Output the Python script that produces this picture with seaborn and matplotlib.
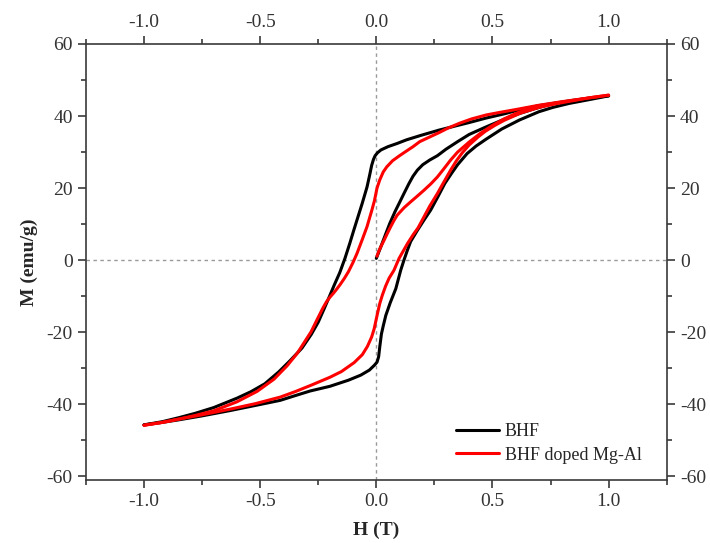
import numpy as np
import pandas as pd
import seaborn as sns
import matplotlib
matplotlib.use("Agg")
import matplotlib.pyplot as plt
from matplotlib.ticker import MultipleLocator, FuncFormatter
from matplotlib.lines import Line2D

# ---- data ----
samples = ["BHF", "BHF doped Mg-Al"]

bhf_up_H = [1.0, 0.92, 0.85, 0.78, 0.7, 0.62, 0.55, 0.47, 0.4, 0.35, 0.27, 0.19, 0.13, 0.09, 0.05,
            0.02, 0.005, -0.005, -0.012, -0.02, -0.028, -0.04, -0.061, -0.08, -0.097, -0.115,
            -0.135, -0.157, -0.181, -0.2, -0.224, -0.25, -0.28, -0.32, -0.37, -0.42, -0.48,
            -0.54, -0.6, -0.7, -0.78, -0.85, -0.92, -1.0]
bhf_up_M = [45.6, 45.0, 44.4, 43.7, 42.9, 41.8, 40.6, 39.4, 38.2, 37.4, 36.1, 34.6, 33.4, 32.4, 31.5,
            30.6, 29.8, 29.0, 28.0, 26.3, 23.8, 20.3, 15.7, 11.8, 8.3, 4.5,
            0.5, -3.4, -6.9, -9.8, -13.4, -17.2, -20.6, -24.4, -27.8, -31.0, -34.3,
            -36.5, -38.3, -40.9, -42.5, -43.7, -44.8, -45.7]

bhf_low_H = [-1.0, -0.92, -0.85, -0.75, -0.627, -0.52, -0.414, -0.35, -0.285, -0.2, -0.167, -0.12,
             -0.067, -0.03, -0.009, 0.003, 0.01, 0.015, 0.022, 0.03, 0.041, 0.06, 0.084, 0.105,
             0.12, 0.134, 0.148, 0.177, 0.205, 0.234, 0.265, 0.295, 0.325, 0.35, 0.391, 0.43,
             0.473, 0.54, 0.616, 0.7, 0.76, 0.83, 0.92, 1.0]
bhf_low_M = [-45.7, -45.0, -44.3, -43.2, -41.7, -40.3, -38.9, -37.6, -36.3, -35.0, -34.3, -33.3,
             -31.9, -30.5, -29.2, -28.3, -26.8, -24.0, -20.5, -18.2, -15.3, -11.8, -7.9, -2.8,
             0.2, 2.8, 5.2, 8.3, 11.1, 13.9, 17.6, 21.3, 24.2, 26.5, 29.6, 31.7,
             33.6, 36.4, 38.9, 41.2, 42.4, 43.5, 44.6, 45.6]

bhf_vir_H = [0.0, 0.02, 0.04, 0.058, 0.08, 0.1, 0.119, 0.14, 0.158, 0.177, 0.2, 0.23, 0.263, 0.3,
             0.35, 0.4, 0.473, 0.55, 0.616, 0.68, 0.75]
bhf_vir_M = [0.5, 3.8, 7.2, 10.2, 13.4, 16.0, 18.5, 21.2, 23.3, 25.0, 26.5, 27.8, 29.0, 30.8,
             32.9, 34.9, 37.0, 39.1, 40.7, 42.0, 43.3]

dop_up_H = [1.0, 0.9, 0.8, 0.7, 0.6, 0.53, 0.473, 0.41, 0.358, 0.31, 0.27, 0.23, 0.187, 0.158, 0.13,
            0.1, 0.07, 0.045, 0.03, 0.015, 0.003, -0.008, -0.019, -0.04, -0.06, -0.083, -0.1,
            -0.12, -0.138, -0.155, -0.17, -0.185, -0.2, -0.215, -0.23, -0.255, -0.281, -0.3,
            -0.34, -0.384, -0.44, -0.513, -0.6, -0.7, -0.78, -0.85, -0.92, -1.0]
dop_up_M = [45.8, 44.9, 44.0, 43.0, 41.8, 41.0, 40.3, 39.2, 38.0, 36.7, 35.4, 34.2, 32.9, 31.5, 30.3,
            29.0, 27.6, 25.9, 24.5, 22.3, 20.0, 16.5, 13.9, 9.3, 5.8, 1.9, -0.6,
            -3.2, -5.1, -6.7, -8.0, -9.2, -10.3, -11.6, -13.3, -16.5, -19.9, -21.8,
            -25.8, -29.3, -33.0, -36.4, -39.3, -41.8, -43.1, -44.1, -45.0, -45.8]

dop_low_H = [-1.0, -0.92, -0.85, -0.75, -0.627, -0.52, -0.414, -0.35, -0.281, -0.2, -0.15, -0.095,
             -0.06, -0.038, -0.02, -0.009, 0.005, 0.015, 0.026, 0.04, 0.055, 0.076, 0.098, 0.12,
             0.134, 0.16, 0.18, 0.205, 0.23, 0.263, 0.29, 0.32, 0.345, 0.37, 0.4, 0.44, 0.47,
             0.51, 0.55, 0.62, 0.7, 0.78, 0.85, 0.92, 1.0]
dop_low_M = [-45.8, -45.0, -44.1, -42.9, -41.3, -39.8, -38.0, -36.5, -34.7, -32.5, -30.9, -28.4,
             -26.2, -23.9, -21.3, -19.0, -14.8, -12.0, -9.7, -7.2, -5.0, -2.8, 0.5, 3.0,
             4.6, 7.2, 9.0, 12.0, 15.0, 18.5, 21.6, 25.0, 27.6, 29.8, 32.0, 34.3, 35.8,
             37.4, 38.8, 40.8, 42.4, 43.5, 44.3, 45.1, 45.8]

dop_vir_H = [0.003, 0.01, 0.02, 0.034, 0.048, 0.062, 0.075, 0.09, 0.12, 0.148, 0.175, 0.205, 0.235,
             0.263, 0.29, 0.32, 0.35, 0.4, 0.45, 0.5, 0.55, 0.6, 0.65, 0.7]
dop_vir_M = [1.1, 2.4, 3.8, 5.6, 7.5, 9.3, 10.9, 12.5, 14.6, 16.2, 17.7, 19.4, 21.2,
             23.1, 25.3, 27.8, 30.0, 32.8, 35.3, 37.4, 39.2, 40.7, 41.9, 42.8]

colors = ["#000000", "#ff0000"]

# ---- build long table ----
frames = []
for sample, branch, H, M in [
    (samples[0], "virgin", bhf_vir_H, bhf_vir_M),
    (samples[0], "upper", bhf_up_H, bhf_up_M),
    (samples[0], "lower", bhf_low_H, bhf_low_M),
    (samples[1], "virgin", dop_vir_H, dop_vir_M),
    (samples[1], "upper", dop_up_H, dop_up_M),
    (samples[1], "lower", dop_low_H, dop_low_M),
]:
    frames.append(pd.DataFrame({"H": H, "M": M, "sample": sample, "branch": branch}))
df = pd.concat(frames, ignore_index=True)

sns.set_theme(style="ticks")
plt.rcParams["font.family"] = ["Liberation Serif", "DejaVu Serif"]

fig = plt.figure(figsize=(7.1, 5.43), dpi=100)
ax = fig.add_axes([0.121, 0.116, 0.818, 0.803])

ax.axhline(0, color="#9a9a9a", lw=1.0, ls=(0, (2.5, 2.5)), zorder=0)
ax.axvline(0, color="#9a9a9a", lw=1.0, ls=(0, (2.5, 2.5)), zorder=0)

sns.lineplot(data=df, x="H", y="M", hue="sample", units="branch", estimator=None,
             sort=False, palette=colors, hue_order=samples, lw=2.2, ax=ax, legend=False,
             solid_joinstyle="round", solid_capstyle="round")

ax.set_xlim(-1.25, 1.25)
ax.set_ylim(-61, 60)
ax.xaxis.set_major_locator(MultipleLocator(0.5))
ax.xaxis.set_minor_locator(MultipleLocator(0.25))
ax.yaxis.set_major_locator(MultipleLocator(20))
ax.yaxis.set_minor_locator(MultipleLocator(10))
ax.xaxis.set_major_formatter(FuncFormatter(lambda v, p: f"{v:.1f}"))
ax.yaxis.set_major_formatter(FuncFormatter(lambda v, p: f"{v:.0f}"))

tc = "#3a3a3a"
for s in ax.spines.values():
    s.set_color(tc)
    s.set_linewidth(1.2)
ax.tick_params(which="both", direction="out", top=True, right=True, labeltop=True,
               labelright=True, color=tc, labelcolor="#333333", width=1.2)
ax.tick_params(which="major", length=5.5, labelsize=14, pad=4)
ax.tick_params(which="minor", length=3.5)

ax.set_xlabel("H (T)", fontsize=14, fontweight="bold", labelpad=8)
ax.set_ylabel("M (emu/g)", fontsize=14, fontweight="bold", labelpad=6)

handles = [Line2D([0], [0], color=c, lw=2.2) for c in colors]
ax.legend(handles, samples, loc="lower right", frameon=False, fontsize=13,
          handlelength=2.4, handletextpad=0.3, labelspacing=0.35,
          bbox_to_anchor=(0.985, 0.0))

fig.savefig("out.png", dpi=100)
